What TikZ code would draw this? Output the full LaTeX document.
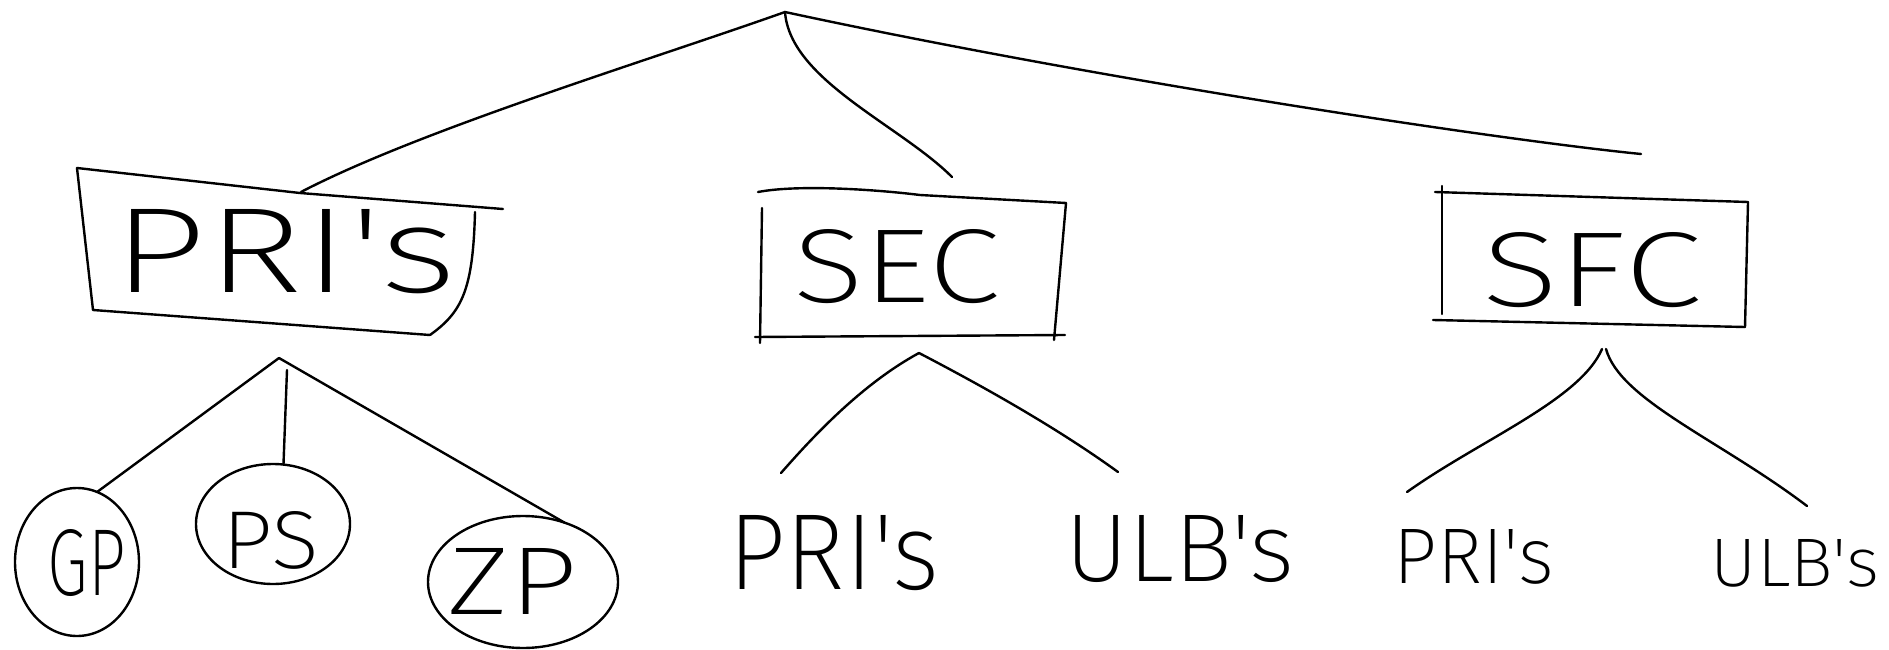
\documentclass[tikz,border=0pt]{standalone}
\usepackage{fontspec}
\usepackage{graphicx}
\newfontfamily\hand{Fira Sans ExtraLight}
\usetikzlibrary{shapes.geometric}
\newcommand{\hw}[3]{\resizebox{#1pt}{#2pt}{\hand #3}}
\tikzset{
  pen/.style={line width=2.4pt, line cap=round, line join=round, black},
  lbl/.style={inner sep=0pt, outer sep=0pt},
  oval/.style={ellipse, draw, pen, inner sep=0pt, outer sep=0pt},
}
\begin{document}
\begin{tikzpicture}[x=1pt,y=-1pt]
\useasboundingbox[fill=white] (0,0) rectangle (1889,650);

% ---------- top level boxes ----------
% PRI's box
\node[lbl] (pri) at (285,252) {\hw{344}{83}{PRI's}};
\draw[pen] (77,168) -- (300,193) -- (503,209);
\draw[pen] (77,168) -- (93,310) -- (430,335);
\draw[pen] (475,212) .. controls (473,290) and (462,312) .. (430,335);
% SEC box
\node[lbl] (sec) at (897,267) {\hw{207}{73}{SEC}};
\draw[pen] (758,192) .. controls (800,184) and (880,190) .. (920,195) -- (1066,203);
\draw[pen] (762,208) -- (760,343);
\draw[pen] (755,337) -- (1065,335);
\draw[pen] (1066,203) -- (1054,340);
% SFC box
\node[lbl] (sfc) at (1592,270) {\hw{219}{74}{SFC}};
\draw[pen] (1435,192) -- (1748,202);
\draw[pen] (1442,186) -- (1442,314);
\draw[pen] (1433,320) -- (1745,327);
\draw[pen] (1748,202) -- (1745,327);

% ---------- root connectors ----------
\coordinate (root) at (785,12);
\coordinate (priTop) at (301,192);
\coordinate (secTop) at (952,177);
\coordinate (sfcTop) at (1641,154);
\draw[pen] (root) .. controls (650,60) and (420,130) .. (priTop);
\draw[pen] (root) .. controls (790,80) and (900,125) .. (secTop);
\draw[pen] (root) .. controls (1100,80) and (1500,140) .. (sfcTop);

% ---------- PRI's children ----------
\node[oval, minimum width=124pt, minimum height=148pt] (gp) at (77,562) {};
\node[lbl] (gpt) at (87,563) {\hw{78}{66}{GP}};
\node[oval, minimum width=154pt, minimum height=120pt] (ps) at (273,524) {};
\node[lbl] (pst) at (271,540) {\hw{96}{57}{PS}};
\node[oval, minimum width=190pt, minimum height=132pt] (zp) at (523,582) {};
\node[lbl] (zpt) at (513,581) {\hw{130}{66}{ZP}};
\coordinate (priA) at (279,358);
\coordinate (priB) at (287,370);
\draw[pen] (priA) -- (gp.74);
\draw[pen] (priB) -- (ps.80);
\draw[pen] (priA) -- (zp.55);

% ---------- SEC children ----------
\node[lbl] (secpri) at (834,553) {\hw{211}{74}{PRI's}};
\node[lbl] (seculb) at (1180,549) {\hw{229}{66}{ULB's}};
\coordinate (secA) at (919,353);
\coordinate (secL) at (781,473);
\coordinate (secR) at (1118,472);
\draw[pen] (secA) .. controls (860,385) and (810,440) .. (secL);
\draw[pen] (secA) .. controls (990,390) and (1060,430) .. (secR);

% ---------- SFC children ----------
\node[lbl] (sfcpri) at (1474,557) {\hw{160}{54}{PRI's}};
\node[lbl] (sfculb) at (1795,563) {\hw{168}{47}{ULB's}};
\coordinate (sfcA) at (1602,349);
\coordinate (sfcB) at (1606,349);
\coordinate (sfcL) at (1407,492);
\coordinate (sfcR) at (1807,506);
\draw[pen] (sfcA) .. controls (1580,400) and (1480,440) .. (sfcL);
\draw[pen] (sfcB) .. controls (1620,400) and (1720,440) .. (sfcR);
\end{tikzpicture}
\end{document}
